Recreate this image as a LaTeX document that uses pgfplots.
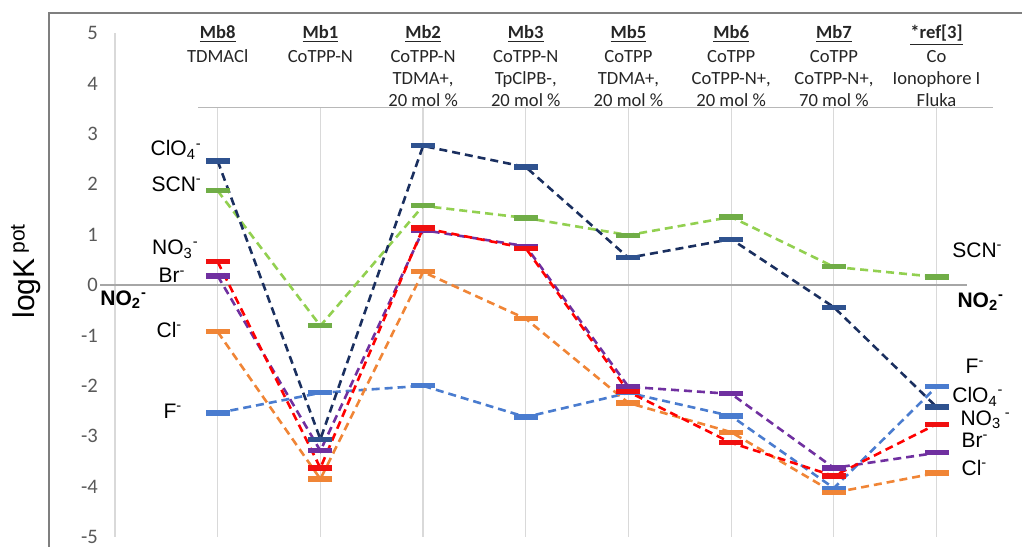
\documentclass[border=0pt]{standalone}
\usepackage{pgfplots}
\pgfplotsset{compat=1.18}
\usepackage{fontspec}
\setmainfont{Carlito}
\newfontfamily\arial{Liberation Sans}
\definecolor{cloL}{HTML}{1A2F5F}
\definecolor{cloM}{HTML}{2F528F}
\definecolor{scnL}{HTML}{92D050}
\definecolor{scnM}{HTML}{70AD47}
\definecolor{noL}{HTML}{FF0000}
\definecolor{noM}{HTML}{F01010}
\definecolor{brL}{HTML}{7030A0}
\definecolor{clL}{HTML}{F08536}
\definecolor{fL}{HTML}{4A7CCF}
\definecolor{tickgray}{HTML}{595959}
\definecolor{gridgray}{HTML}{D9D9D9}
\definecolor{zerogray}{HTML}{A6A6A6}
\definecolor{framegray}{HTML}{7F7F7F}
\tikzset{
  ion/.style={font=\arial\fontsize{10.5}{12}\selectfont, inner sep=0pt},
  hdr/.style={anchor=north, align=center, inner sep=0pt, font=\fontsize{9.3}{11}\selectfont, text=black!85},
  ser/.style={line width=1.3pt, dash pattern=on 4pt off 2.5pt, mark=-, mark size=6pt},
}

\pgfplotstableread{
x y
1 2.46
2 -3.06
3 2.76
4 2.34
5 0.54
6 0.91
7 -0.44
8 -2.42
}\clo
\pgfplotstableread{
x y
1 1.87
2 -0.81
3 1.57
4 1.33
5 0.99
6 1.35
7 0.36
8 0.16
}\scn
\pgfplotstableread{
x y
1 0.46
2 -3.63
3 1.13
4 0.73
5 -2.12
6 -3.13
7 -3.79
8 -2.76
}\nothree
\pgfplotstableread{
x y
1 0.18
2 -3.29
3 1.09
4 0.77
5 -2.02
6 -2.16
7 -3.63
8 -3.33
}\br
\pgfplotstableread{
x y
1 -0.93
2 -3.85
3 0.26
4 -0.67
5 -2.34
6 -2.92
7 -4.12
8 -3.73
}\cl
\pgfplotstableread{
x y
1 -2.54
2 -2.14
3 -2.00
4 -2.62
5 -2.14
6 -2.60
7 -4.03
8 -2.02
}\fl

\begin{document}
\begin{tikzpicture}
\begin{axis}[
  scale only axis, width=453.5pt, height=273.5pt,
  xmin=0, xmax=8.832, ymin=-5.198, ymax=5.655,
  clip=false,
  axis line style={draw=none},
  xtick=\empty, ytick={-5,...,5}, major tick length=0pt,
  /pgf/number format/assume math mode=true,
  yticklabel style={text=tickgray, font=\fontsize{10.3}{12}\selectfont, xshift=-5pt},
]
\coordinate (bl) at (axis cs:-1.1198,-5.198);
\coordinate (tr) at (axis cs:8.832,5.655);
% frame
\draw[framegray, line width=0.7pt] (axis cs:-0.643,-5.198) -- (axis cs:-0.643,5.40) -- (axis cs:8.832,5.40);
% grid
\draw[gridgray, line width=0.6pt] (axis cs:0,5) -- (axis cs:0,-5);
\foreach \i in {1,...,8} {
  \edef\tmp{\noexpand\draw[gridgray, line width=0.6pt] (axis cs:\i,3.53) -- (axis cs:\i,-5);}\tmp
}
\draw[zerogray!80, line width=0.5pt] (axis cs:0.81,3.53) -- (axis cs:8.55,3.53);
\draw[zerogray, line width=0.9pt] (axis cs:-0.146,0) -- (axis cs:8.3,0);

\addplot[ser, fL, mark options={solid, line width=2.6pt, draw=fL}] table {\fl};
\addplot[ser, clL, mark options={solid, line width=2.6pt, draw=clL}] table {\cl};
\addplot[ser, brL, mark options={solid, line width=2.6pt, draw=brL}] table {\br};
\addplot[ser, noL, mark options={solid, line width=2.6pt, draw=noM}] table {\nothree};
\addplot[ser, scnL, mark options={solid, line width=2.6pt, draw=scnM}] table {\scn};
\addplot[ser, cloL, mark options={solid, line width=2.6pt, draw=cloM}] table {\clo};

% headers
\node[hdr] at (axis cs:1,5.16) {\underline{\textbf{Mb8}}\\[1pt]TDMACl};
\node[hdr] at (axis cs:2,5.16) {\underline{\textbf{Mb1}}\\[1pt]CoTPP-N};
\node[hdr] at (axis cs:3,5.16) {\underline{\textbf{Mb2}}\\[1pt]CoTPP-N\\TDMA+,\\20 mol \%};
\node[hdr] at (axis cs:4,5.16) {\underline{\textbf{Mb3}}\\[1pt]CoTPP-N\\TpClPB-,\\20 mol \%};
\node[hdr] at (axis cs:5,5.16) {\underline{\textbf{Mb5}}\\[1pt]CoTPP\\TDMA+,\\20 mol \%};
\node[hdr] at (axis cs:6,5.16) {\underline{\textbf{Mb6}}\\[1pt]CoTPP\\CoTPP-N+,\\20 mol \%};
\node[hdr] at (axis cs:7,5.16) {\underline{\textbf{Mb7}}\\[1pt]CoTPP\\CoTPP-N+,\\70 mol \%};
\node[hdr] at (axis cs:8,5.16) {\underline{\textbf{*ref[3]}}\\[1pt]Co\\Ionophore I\\Fluka};

% y label
\node[rotate=90, font=\arial\fontsize{15}{18}\selectfont, inner sep=0pt] at (axis cs:-0.867,0.27) {logK\,\raisebox{5pt}{\fontsize{10.5}{12}\selectfont pot}};

% left ion labels
\node[ion, anchor=base east] at (axis cs:0.85,2.56) {ClO\textsubscript{4}\textsuperscript{-}};
\node[ion, anchor=base east] at (axis cs:0.85,1.85) {SCN\textsuperscript{-}};
\node[ion, anchor=base east] at (axis cs:0.82,0.60) {NO\textsubscript{3}\textsuperscript{-}};
\node[ion, anchor=base east] at (axis cs:0.69,0.04) {Br\textsuperscript{-}};
\node[ion, anchor=base east] at (axis cs:0.66,-1.05) {Cl\textsuperscript{-}};
\node[ion, anchor=base east] at (axis cs:0.66,-2.64) {F\textsuperscript{-}};
\node[ion, anchor=base west, font=\arial\bfseries\fontsize{10.5}{12}\selectfont] at (axis cs:-0.146,-0.40) {NO\textsubscript{2}\textsuperscript{-}};
% right ion labels
\node[ion, anchor=base west] at (axis cs:8.15,0.54) {SCN\textsuperscript{-}};
\node[ion, anchor=base west, font=\arial\bfseries\fontsize{10.5}{12}\selectfont] at (axis cs:8.2,-0.44) {NO\textsubscript{2}\textsuperscript{-}};
\node[ion, anchor=base west] at (axis cs:8.28,-1.75) {F\textsuperscript{-}};
\node[ion, anchor=base west] at (axis cs:8.15,-2.34) {ClO\textsubscript{4}\textsuperscript{-}};
\node[ion, anchor=base west] at (axis cs:8.23,-2.78) {NO\textsubscript{3}\,\textsuperscript{-}};
\node[ion, anchor=base west] at (axis cs:8.24,-3.23) {Br\textsuperscript{-}};
\node[ion, anchor=base west] at (axis cs:8.24,-3.77) {Cl\textsuperscript{-}};
\end{axis}
\pgfresetboundingbox
\path[use as bounding box] (bl) rectangle (tr);
\end{tikzpicture}
\end{document}
